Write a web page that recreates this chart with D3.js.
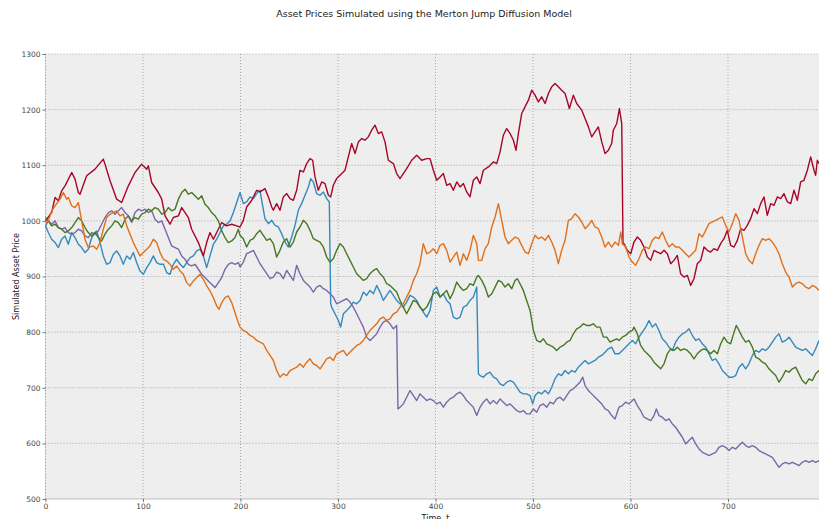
<!DOCTYPE html>
<html>
<head>
<meta charset="utf-8">
<script src="https://cdn.jsdelivr.net/npm/d3@7/dist/d3.min.js"></script>
<style>
  html, body { margin: 0; padding: 0; background: #ffffff; overflow: hidden; }
  svg { display: block; font-family: "DejaVu Sans", sans-serif; }
</style>
</head>
<body>
<svg id="chart" width="819" height="519"></svg>
<script>
const title = "Asset Prices Simulated using the Merton Jump Diffusion Model";
const xLabel = "Time, t";
const yLabel = "Simulated Asset Price";
const xTicks = [0, 100, 200, 300, 400, 500, 600, 700, 800];
const yTicks = [500, 600, 700, 800, 900, 1000, 1100, 1200, 1300];
const seriesNames = ["blue", "red", "purple", "green", "orange"];
const seriesColors = ["#348ABD", "#A60628", "#7A68A6", "#467821", "#E0701A"];

// [time, price] pairs
const bluePath = [
[0,991],[2.9,979],[6.3,967],[9.8,961],[13.2,952],[16.6,967],[20,973],[23.4,958],[26.9,979],[30.3,970],[33.7,958],[37.1,952],[40.5,943],[43.9,949],[47.4,970],[50.8,979],[52.5,982],[55.9,961],[59.3,937],[62.7,922],[66.2,925],[69.6,940],[73,946],[76.4,937],[79.8,922],[83.3,937],[86.7,931],[90.1,943],[93.5,925],[96.9,910],[100.4,904],[103.8,916],[107.2,925],[110.6,937],[114,925],[117.5,922],[120.9,922],[124.3,907],[127.7,904],[131.1,922],[134.5,931],[138,922],[141.4,916],[144.8,925],[148.2,934],[151.6,937],[155.1,946],[158.5,949],[161.9,937],[165.3,916],[168.7,937],[172.2,958],[175.6,967],[179,979],[182.4,991],[185.8,994],[189.3,1000],[192.7,1015],[196.1,1033],[199.5,1051],
[202.9,1031],[206.3,1034],[209.8,1043],[213.2,1040],[216.6,1049],[220,1055],[221.7,1037],[225.1,1004],[228.6,995],[232,1001],[235.4,992],[238.8,989],[242.2,977],[245.7,962],[249.1,953],[252.5,971],[255.9,992],[259.3,1019],[262.7,1031],[266.2,1046],[269.6,1061],[272,1076],[274.7,1070],[278.1,1049],[281.6,1046],[285,1052],[288.4,1040],[291.1,1034],[292.5,851],[293.5,845],[296.9,833],[300.4,821],[302.7,809],[305.5,833],[308.9,839],[312.3,845],[315.7,854],[319.2,851],[322.6,857],[326,872],[329.4,866],[332.8,875],[336.3,869],[339.7,884],[343.1,872],[346.5,857],[349.9,866],[353.3,875],[356.8,866],[360.2,857],[363.6,851],[367,845],[370.4,854],[373.9,866],[377.3,863],[380.7,857],[384.1,845],[387.5,836],[391,827],
[394.4,839],[397.8,875],[401.2,881],[404.7,863],[408.1,869],[411.5,857],[414.9,851],[418.3,827],[421.8,824],[425.2,827],[428.6,845],[432,848],[435.4,857],[438.8,863],[442.3,881],[444,725],[445.7,722],[449.1,719],[452.5,725],[455.9,728],[459.4,719],[462.8,716],[466.2,707],[469.6,704],[473,710],[476.5,713],[479.9,710],[483.3,701],[486.7,692],[490.1,689],[493.5,689],[497,686],[499.7,671],[502.1,686],[505.5,692],[508.9,689],[512.4,695],[515.8,689],[519.2,701],[522.6,716],[526,725],[529.4,722],[532.9,731],[536.3,725],[539.7,731],[543.1,728],[546.5,737],[550,743],[553.4,749],[556.8,743],[560.2,746],[563.6,749],[567,755],[570.5,758],[573.9,764],[577.3,770],[580.7,773],[584.1,761],
[588.2,761],[591.6,767],[595,773],[598.5,779],[601.9,785],[605.3,779],[608.7,791],[612.1,800],[615.6,809],[619,821],[622.4,809],[625.8,815],[629.2,803],[632.6,788],[636.1,782],[639.5,773],[642.9,767],[646.3,782],[649.7,791],[653.2,797],[656.6,800],[660,806],[663.4,794],[666.8,785],[670.3,788],[673.7,779],[677.1,773],[680.5,761],[683.9,749],[687.3,752],[690.8,743],[694.2,731],[697.6,725],[701,719],[704.4,719],[707.9,722],[711.3,737],[714.7,743],[718.1,734],[721.5,743],[725,758],[728.4,767],[731.8,764],[735.2,770],[738.6,767],[742,773],[745.5,782],[748.9,791],[752.3,797],[755.7,782],[759.1,785],[762.6,791],[766,782],[769.4,773],[772.8,770],[776.2,767],[779.7,770],[783.1,764],[786.5,758],[789.9,770],[793.3,785]
];

const redPath = [
[0,1000],[6.3,1015],[9.8,1042],[13.2,1036],[16.6,1054],[20,1063],[26.9,1087],[30.3,1075],[33.7,1051],[35.4,1048],[42.2,1081],[50.8,1093],[59.3,1111],[61,1102],[66.2,1072],[73,1039],[78.1,1033],[85,1063],[91.8,1087],[98.6,1102],[103.8,1093],[105.5,1099],[108.9,1069],[115.7,1051],[119.2,1039],[122.6,1009],[127.7,994],[131.1,1006],[136.3,1009],[139.7,1024],[146.5,1006],[149.9,985],[156.8,961],[161.9,937],[165.3,961],[168.7,979],[172.2,967],[175.6,979],[180.7,997],[185.8,991],[191,994],[196.1,991],
[199.5,989],[202.9,1001],[206.3,1025],[211.5,1037],[216.6,1055],[220,1052],[225.1,1058],[228.6,1043],[232,1025],[233.7,1019],[237.1,1031],[240.5,1019],[243.9,1043],[247.4,1049],[250.8,1040],[254.2,1037],[257.6,1055],[261,1091],[264.5,1088],[267.9,1103],[271.3,1112],[274,1109],[276.4,1079],[279.8,1055],[283.3,1070],[286.7,1067],[290.1,1046],[292.5,1043],[295.2,1064],[298.6,1076],[302.1,1082],[307.2,1091],[310.6,1115],[314,1139],[317.5,1121],[320.9,1142],[324.3,1148],[327.7,1145],[331.1,1151],[334.5,1163],[338,1172],[341.4,1157],[344.8,1160],[348.2,1142],[351.6,1109],[356.8,1103],[360.2,1085],[363.6,1076],[367,1085],[370.4,1094],[375.6,1109],[380.7,1118],[385.8,1109],[391,1112],
[394.4,1112],[397.8,1091],[401.2,1073],[404.7,1079],[408.1,1085],[411.5,1064],[414.9,1067],[418.3,1055],[421.8,1070],[425.2,1061],[428.6,1067],[432,1052],[435.4,1043],[438.8,1073],[442.3,1079],[445.7,1067],[449.1,1091],[454.2,1097],[459.4,1106],[462.8,1103],[466.2,1124],[469.6,1154],[473,1166],[476.5,1157],[479.9,1145],[482.6,1127],[485,1157],[488.4,1193],[491.8,1205],[495.3,1217],[498.7,1235],[502.1,1226],[505.5,1214],[508.9,1223],[512.4,1211],[515.8,1229],[519.2,1241],[522.6,1247],[526,1241],[529.4,1235],[532.9,1229],[537.3,1202],[541.4,1226],[544.8,1211],[550,1199],[553.4,1184],[556.8,1169],[560.2,1151],[563.6,1160],[567,1169],[570.5,1142],[573.9,1121],[577.3,1127],[580.7,1139],[582.4,1163],[585.9,1175],[588.6,1202],[591,1175],[592.3,960],
[593.3,959],[596.7,947],[600.2,941],[603.6,962],[607,971],[610.4,965],[613.8,953],[617.3,935],[620.7,929],[624.1,947],[627.5,944],[630.9,941],[634.4,947],[637.8,941],[641.2,923],[644.6,929],[648,938],[651.4,905],[654.9,899],[658.3,902],[661.7,884],[665.1,896],[668.5,923],[672,929],[675.4,953],[678.8,947],[682.2,944],[685.6,950],[689.1,947],[692.5,959],[695.9,968],[699.3,983],[702.7,956],[706.2,953],[709.6,965],[713,986],[716.4,983],[719.8,992],[723.2,1004],[726.7,1022],[730.1,1013],[733.5,1031],[736.9,1043],[740.3,1010],[743.8,1031],[747.2,1028],[750.6,1043],[754,1040],[757.4,1049],[760.9,1034],[764.3,1031],[767.7,1055],[771.1,1037],[774.5,1070],[777.9,1073],[781.4,1091],[784.8,1115],[788.2,1091],[789.9,1082],[791.6,1109],[793.3,1103]
];

const purplePath = [
[0,991],[2.9,1000],[6.3,994],[9.8,1000],[13.2,988],[16.6,985],[20,988],[23.4,979],[26.9,976],[30.3,979],[33.7,985],[37.1,982],[40.5,973],[43.9,970],[47.4,979],[50.8,976],[54.2,982],[57.6,994],[61,1006],[64.5,1015],[67.9,1018],[71.3,1012],[74.7,1018],[78.1,1024],[81.6,1015],[85,1009],[88.4,997],[91.8,1015],[95.2,1021],[98.6,1018],[102.1,1021],[105.5,1015],[108.9,1018],[112.3,1003],[115.7,997],[119.2,1000],[122.6,985],[126,970],[129.4,955],[132.8,952],[136.3,949],[139.7,937],[143.1,931],[146.5,922],[149.9,919],[153.3,922],[156.8,913],[160.2,904],[163.6,898],[167,892],[170.4,886],[173.9,880],[177.3,889],[180.7,898],[184.1,913],[187.5,922],[191,925],[194.4,922],[197.8,925],
[199.5,917],[202.9,926],[206.3,941],[209.8,944],[213.2,947],[216.6,935],[220,923],[223.4,914],[226.9,905],[230.3,896],[233.7,899],[237.1,908],[240.5,905],[243.9,896],[247.4,911],[250.8,902],[254.2,893],[257.6,920],[261,905],[264.5,893],[267.9,887],[271.3,881],[274.7,872],[278.1,881],[281.6,884],[285,878],[288.4,875],[291.8,869],[295.2,863],[298.6,851],[302.1,854],[305.5,857],[308.9,860],[312.3,854],[315.7,845],[319.2,833],[322.6,821],[326,809],[329.4,791],[332.8,785],[336.3,791],[339.7,797],[343.1,809],[346.5,818],[349.9,821],[353.3,815],[356.8,806],[360.2,812],[361.5,662],[363.6,665],[367,671],[370.4,683],[373.9,695],[377.3,686],[380.7,677],[384.1,689],[387.5,683],[391,677],
[394.4,680],[397.8,677],[401.2,671],[404.7,674],[408.1,665],[411.5,674],[414.9,680],[418.3,683],[421.8,689],[425.2,692],[428.6,686],[432,677],[435.4,671],[438.8,665],[442.3,650],[445.7,665],[449.1,674],[452.5,680],[455.9,671],[459.4,677],[462.8,671],[466.2,680],[469.6,674],[473,668],[476.5,671],[479.9,665],[483.3,659],[486.7,656],[490.1,659],[493.5,653],[497,653],[500.4,662],[503.8,656],[507.2,668],[510.6,671],[514.1,665],[517.5,674],[520.9,671],[524.3,680],[527.7,683],[531.2,677],[534.6,686],[538,695],[541.4,698],[544.8,704],[548.2,710],[551,719],[553.4,704],[556.8,695],[560.2,689],[563.6,683],[567,677],[570.5,671],[573.9,662],[577.3,659],[580.7,650],[584.1,644],
[588.2,665],[591.6,668],[595,674],[598.5,671],[601.9,677],[603.6,680],[607,668],[610.4,659],[613.8,647],[617.3,644],[620.7,641],[624.1,650],[626.5,662],[629.2,650],[632.6,647],[636.1,641],[639.5,644],[642.9,635],[646.3,629],[649.7,620],[653.2,611],[656.6,599],[660,605],[663.4,611],[666.8,599],[670.3,590],[673.7,584],[677.1,581],[680.5,578],[683.9,581],[687.3,584],[690.8,593],[694.2,596],[697.6,593],[701,587],[704.4,593],[707.9,590],[711.3,596],[714.7,602],[718.1,596],[721.5,593],[725,596],[728.4,593],[731.8,587],[735.2,584],[738.6,581],[742,578],[745.5,575],[748.9,566],[752.3,557],[755.7,563],[759.1,566],[762.6,563],[766,566],[769.4,563],[772.8,560],[776.2,566],[779.7,569],[783.1,566],[786.5,569],[789.9,566],[793.3,569]
];

const greenPath = [
[0,1006],[2.9,1000],[6.3,991],[9.8,994],[13.2,988],[16.6,985],[20,979],[23.4,982],[26.9,988],[30.3,997],[33.7,1006],[37.1,1000],[40.5,988],[43.9,979],[47.4,973],[50.8,979],[54.2,970],[57.6,964],[61,976],[64.5,985],[67.9,991],[71.3,1000],[74.7,997],[78.1,988],[81.6,1003],[85,1009],[88.4,1000],[91.8,1006],[95.2,1003],[98.6,1012],[102.1,1015],[105.5,1021],[108.9,1018],[112.3,1024],[115.7,1021],[119.2,1012],[122.6,1015],[126,1024],[129.4,1018],[132.8,1021],[136.3,1039],[139.7,1051],[143.1,1057],[146.5,1048],[149.9,1051],[153.3,1045],[156.8,1039],[160.2,1045],[163.6,1030],[167,1024],[170.4,1015],[173.9,1009],[177.3,1000],[180.7,982],[184.1,970],[187.5,961],[191,964],[194.4,970],[197.8,985],
[199.5,974],[202.9,968],[206.3,953],[209.8,965],[213.2,968],[216.6,977],[220,983],[223.4,974],[226.9,965],[230.3,968],[233.7,959],[237.1,935],[240.5,947],[243.9,962],[247.4,968],[250.8,953],[254.2,962],[257.6,980],[261,989],[264.5,1001],[267.9,995],[271.3,983],[274.7,968],[278.1,965],[281.6,962],[285,953],[288.4,935],[291.8,926],[295.2,932],[298.6,947],[302.1,959],[305.5,953],[308.9,941],[312.3,929],[315.7,917],[319.2,905],[322.6,899],[326,893],[329.4,896],[332.8,905],[336.3,911],[339.7,914],[343.1,905],[346.5,899],[349.9,887],[353.3,884],[356.8,878],[360.2,872],[363.6,857],[367,845],[370.4,833],[373.9,845],[377.3,857],[380.7,854],[384.1,845],[387.5,839],[391,845],
[394.4,857],[397.8,869],[401.2,872],[404.7,863],[408.1,869],[411.5,875],[414.9,860],[418.3,872],[421.8,890],[425.2,881],[428.6,875],[432,878],[435.4,887],[438.8,884],[442.3,899],[444,902],[447.4,893],[450.8,881],[454.2,863],[457.7,869],[461.1,881],[464.5,893],[467.9,890],[471.3,881],[474.7,887],[478.2,878],[481.6,893],[484,896],[486.7,887],[490.1,875],[493.5,857],[497,839],[500.4,803],[503.8,785],[507.2,782],[510.6,788],[514.1,779],[517.5,776],[520.9,773],[524.3,767],[527.7,773],[531.2,776],[534.6,782],[538,785],[541.4,797],[544.8,806],[548.2,809],[551.7,815],[555.1,812],[558.5,812],[561.9,815],[565.3,809],[568.8,809],[572.2,791],[575.6,791],[579,782],[582.4,785],[585.9,788],
[588.2,785],[591.6,791],[595,794],[598.5,800],[601.9,803],[603.6,809],[607,797],[610.4,776],[613.8,767],[617.3,761],[620.7,755],[624.1,746],[627.5,740],[630.9,734],[634.4,743],[637.8,761],[641.2,770],[644.6,767],[648,773],[651.4,767],[654.9,770],[658.3,767],[661.7,761],[665.1,752],[668.5,761],[672,767],[675.4,770],[678.8,767],[682.2,761],[685.6,767],[689.1,761],[692.5,779],[695.9,791],[699.3,782],[702.7,779],[706.2,800],[708.5,812],[711.3,803],[714.7,791],[718.1,782],[721.5,785],[725,773],[728.4,755],[731.8,752],[735.2,746],[738.6,743],[742,734],[745.5,728],[748.9,722],[752.3,710],[755.7,719],[759.1,731],[762.6,728],[766,734],[769.4,737],[772.8,725],[776.2,713],[779.7,707],[783.1,716],[786.5,713],[789.9,725],[793.3,731]
];

const orangePath = [
[0,997],[2.9,1000],[6.3,1018],[9.8,1027],[14.9,1039],[18.3,1051],[21.7,1039],[23.4,1042],[26.9,1027],[30.3,1024],[33.7,1033],[37.1,1000],[40.5,967],[43.9,952],[49.1,955],[52.5,949],[55.9,961],[59.3,985],[62.7,1006],[66.2,1012],[69.6,1015],[73,1018],[76.4,1009],[79.8,1012],[83.3,991],[86.7,976],[90.1,961],[93.5,949],[96.9,937],[100.4,943],[103.8,949],[107.2,955],[110.6,967],[114,961],[117.5,943],[120.9,931],[124.3,928],[127.7,922],[131.1,913],[134.5,919],[138,910],[141.4,904],[144.8,889],[148.2,883],[151.6,892],[155.1,898],[158.5,904],[161.9,895],[165.3,883],[168.7,874],[172.2,862],[175.6,847],[178,841],[180.7,853],[184.1,862],[187.5,865],[191,853],[194.4,835],[197.8,817],
[199.5,809],[202.9,803],[206.3,800],[209.8,794],[213.2,791],[216.6,785],[220,782],[223.4,779],[226.9,767],[230.3,758],[233.7,749],[237.1,731],[240.5,719],[243.9,725],[247.4,722],[250.8,731],[254.2,734],[257.6,737],[261,743],[264.5,737],[267.9,746],[271.3,752],[274.7,743],[278.1,740],[281.6,734],[285,743],[288.4,752],[291.8,755],[295.2,749],[298.6,761],[302.1,764],[305.5,767],[308.9,758],[312.3,764],[315.7,770],[319.2,776],[322.6,779],[326,785],[329.4,794],[332.8,803],[336.3,809],[339.7,815],[343.1,824],[346.5,827],[349.9,821],[353.3,824],[356.8,833],[360.2,836],[363.6,845],[367,851],[370.4,863],[373.9,875],[377.3,893],[380.7,905],[384.1,923],[387.5,959],[391,941],
[394.4,944],[397.8,950],[401.2,941],[404.7,956],[408.1,959],[411.5,947],[414.9,926],[418.3,935],[421.8,944],[425.2,920],[428.6,941],[432,929],[435.4,947],[438.8,974],[442.3,959],[444,929],[447.4,929],[450.8,950],[454.2,959],[457.7,989],[461.1,1007],[464.5,1031],[467.9,1001],[471.3,971],[474.7,959],[478.2,965],[481.6,971],[485,968],[488.4,956],[491.8,944],[495.3,941],[498.7,959],[502.1,974],[505.5,968],[508.9,971],[512.4,965],[515.8,974],[519.2,962],[522.6,947],[526,923],[529.4,947],[532.9,965],[536.3,1001],[539.7,1004],[543.1,1013],[546.5,1007],[550,998],[553.4,986],[556.8,992],[560.2,1001],[563.6,989],[567,986],[570.5,971],[573.9,953],[577.3,962],[580.7,953],[584.1,962],[587.6,956],[590,980],
[591.6,959],[595,953],[598.5,935],[601.9,926],[605.3,920],[608.7,932],[612.1,947],[615.6,953],[619,950],[622.4,965],[625.8,971],[629.2,968],[632.6,980],[636.1,965],[639.5,953],[642.9,959],[646.3,953],[649.7,953],[653.2,947],[656.6,941],[660,935],[663.4,941],[666.8,947],[670.3,977],[673.7,971],[677.1,983],[680.5,995],[683.9,998],[687.3,1001],[690.8,1004],[694.2,1007],[697.6,992],[701,980],[704.4,995],[707.9,1013],[711.3,1001],[714.7,971],[718.1,941],[721.5,929],[725,923],[728.4,941],[731.8,956],[735.2,968],[738.6,965],[742,968],[745.5,962],[748.9,953],[752.3,941],[755.7,923],[759.1,908],[762.6,899],[766,881],[769.4,887],[772.8,890],[776.2,887],[779.7,881],[783.1,878],[786.5,884],[789.9,881],[793.3,875]
];

const allPaths = [bluePath, redPath, purplePath, greenPath, orangePath];

const svg = d3.select("#chart");
const margin = { left: 45.5, top: 54, bottom: 499 };
const x = d3.scaleLinear().domain([0, 800]).range([margin.left, margin.left + 780]);
const y = d3.scaleLinear().domain([500, 1300]).range([margin.bottom, margin.top]);

// plot background
svg.append("rect")
  .attr("x", x(0)).attr("y", y(1300))
  .attr("width", x(800) - x(0)).attr("height", y(500) - y(1300))
  .attr("fill", "#eeeeee");

// spines
svg.append("line").attr("x1", x(0)).attr("x2", x(800)).attr("y1", y(500)).attr("y2", y(500))
  .attr("stroke", "#bcbcbc").attr("stroke-width", 1);
svg.append("line").attr("x1", x(0)).attr("x2", x(0)).attr("y1", y(500)).attr("y2", y(1300))
  .attr("stroke", "#d8d8d8").attr("stroke-width", 1);

// grid
const grid = svg.append("g");
grid.selectAll(".gx").data(xTicks).join("line")
  .attr("x1", d => x(d)).attr("x2", d => x(d))
  .attr("y1", y(500)).attr("y2", y(1300))
  .attr("stroke", "#8a8a8a").attr("stroke-width", 0.7).attr("stroke-dasharray", "1,2");
grid.selectAll(".gy").data(yTicks.filter(d => d > 500)).join("line")
  .attr("x1", x(0)).attr("x2", x(800))
  .attr("y1", d => y(d)).attr("y2", d => y(d))
  .attr("stroke", "#8a8a8a").attr("stroke-width", 0.7).attr("stroke-dasharray", "1,2");

// axes
const xAxis = d3.axisBottom(x).tickValues(xTicks).tickSize(3).tickPadding(2).tickFormat(d3.format("d"));
const yAxis = d3.axisLeft(y).tickValues(yTicks).tickSize(3).tickPadding(2).tickFormat(d3.format("d"));
const gx = svg.append("g").attr("transform", `translate(0,${y(500)})`).call(xAxis);
const gy = svg.append("g").attr("transform", `translate(${x(0)},0)`).call(yAxis);
[gx, gy].forEach(g => {
  g.select(".domain").remove();
  g.selectAll(".tick line").attr("stroke", "#555").attr("stroke-width", 0.8);
  g.selectAll(".tick text").attr("fill", "#444").style("font-size", "7.5px")
    .style("font-family", "DejaVu Sans, sans-serif");
});

// lines
const line = d3.line().x(d => x(d[0])).y(d => y(d[1]));
svg.append("g").selectAll("path").data(allPaths).join("path")
  .attr("d", line)
  .attr("fill", "none")
  .attr("stroke", (d, i) => seriesColors[i])
  .attr("stroke-width", 1.4)
  .attr("stroke-linejoin", "round");

// labels
svg.append("text").attr("x", 424).attr("y", 17).attr("text-anchor", "middle")
  .style("font-size", "9.5px").attr("fill", "#222").text(title);
svg.append("text").attr("x", x(400)).attr("y", 521).attr("text-anchor", "middle")
  .style("font-size", "8px").attr("fill", "#222").text(xLabel);
svg.append("text").attr("transform", `translate(19,${(y(500) + y(1300)) / 2}) rotate(-90)`)
  .attr("text-anchor", "middle").style("font-size", "8px").attr("fill", "#222").text(yLabel);
</script>
</body>
</html>
